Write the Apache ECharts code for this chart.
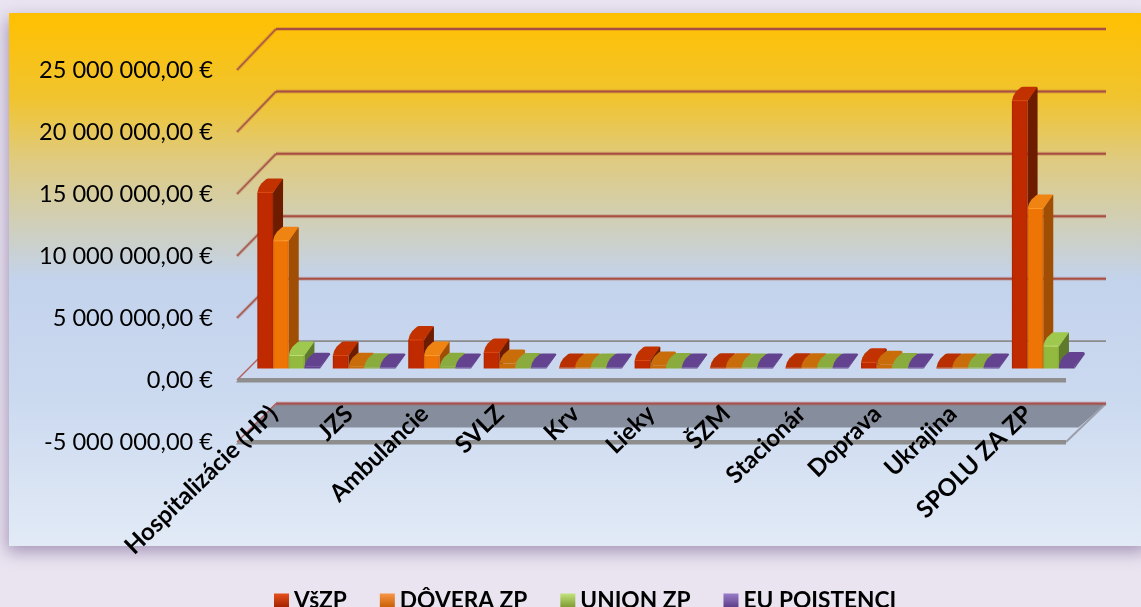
<!DOCTYPE html>
<html><head><meta charset="utf-8">
<style>html,body{margin:0;padding:0;background:#E9E4F0;overflow:hidden}#c{width:1141px;height:607px}</style>
<script src="https://cdn.jsdelivr.net/npm/echarts@6/dist/echarts.min.js"></script>
</head><body><div id="c"></div>
<script>
const categories = ['Hospitalizácie (HP)','JZS','Ambulancie','SVLZ','Krv','Lieky','ŠZM','Stacionár','Doprava','Ukrajina','SPOLU ZA ZP'];
const vszp   = [14200000,1050000,2300000,1300000,80000,650000,100000,100000,500000,80000,21600000];
const dovera = [10300000,150000,1050000,400000,80000,250000,100000,100000,300000,80000,12900000];
const union  = [1050000,100000,150000,120000,80000,120000,80000,80000,120000,80000,1800000];
const eu     = [150000,80000,80000,80000,80000,80000,80000,80000,80000,80000,200000];
const yTicks = [-5000000,0,5000000,10000000,15000000,20000000,25000000];
const legendNames = ['VšZP','DÔVERA ZP','UNION ZP','EU POISTENCI'];
const seriesValues = [vszp,dovera,union,eu];
const palette = [
 {front:'#C02A00',edge:'#A82400',side:'#6E1C00',top:'#C23200',hi:'#DC4610',flat:'#B83000',l1:'#E8501C',l2:'#A02200'},
 {front:'#EE7406',edge:'#D86404',side:'#A04E04',top:'#F08412',hi:'#FF9C2C',flat:'#C96C0A',l1:'#F79646',l2:'#C85E04'},
 {front:'#93BA3E',edge:'#84A836',side:'#5E7A2A',top:'#9FC84E',hi:'#BEDF74',flat:'#8AAB3E',l1:'#C4E27C',l2:'#7C9A30'},
 {front:'#69489A',edge:'#5C3E88',side:'#4C3470',top:'#65458F',hi:'#7E5CAE',flat:'#63438F',l1:'#9A7CC8',l2:'#5C3E88'}
];
const WALL_DX=40, WALL_DY=-41, WALL_PERSPECTIVE=2.5, BAR_DX=10, BAR_DY=-14, BAR_SHIFT_X=15, BAR_SHIFT_Y=-11.5, BAR_FRACTION=0.208, FLAT_PX=6;

function euro(v){
  const neg=v<0; const s=String(Math.abs(v)).replace(/\B(?=(\d{3})+$)/g,' ');
  return (neg?'-':'')+s+',00 €';
}
function line(x1,y1,x2,y2,color,w){
  return {type:'line',shape:{x1,y1,x2,y2},style:{stroke:color,lineWidth:w,lineCap:'butt'},silent:true};
}
function softLine(x1,y1,x2,y2,color,w){
  return [line(x1,y1,x2,y2,'rgba(168,78,66,0.28)',w+2),line(x1,y1,x2,y2,color,w)];
}
function poly(points,fill){return {type:'polygon',shape:{points},style:{fill},silent:true};}

function renderWall(params,api){
  const cs=params.coordSys, L=cs.x, R=cs.x+cs.width, v=api.value(1), y=api.coord([0,v])[1];
  const top=yTicks[yTicks.length-1], span=top-yTicks[0];
  const bx=L+WALL_DX, bR=R+WALL_DX, by=y+WALL_DY+WALL_PERSPECTIVE*(top-v)/span, ch=[];
  if(v===0){
    ch.push(line(L+1,y,bx,by,'#B4605C',1.5));
    ch.push(line(bx,by,bR,by,'#8C8C8C',1.6));
    ch.push(poly([[L,y+2.5],[L+3,y-2],[R,y-2],[R,y+2.5]],'#8E8E8E'));
  } else if(v<0){
    const h=24;
    ch.push(poly([[bx,by],[bR,by],[bR-h*1.15,by+h],[bx-h,by+h]],'#868D9C'));
    ch.push(line(bR,by,R,y,'#9A9FAB',2));
    ch.push(poly([[L,y+2.5],[L+3,y-2],[R,y-2],[R,y+2.5]],'#8E8E8E'));
    ch.push(line(L+1,y,bx,by,'#B4605C',1.5));
    ch.push(...softLine(bx,by,bR,by,'#A8504C',2));
  } else {
    ch.push(...softLine(L+1,y,bx,by,'#A8584A',1.6));
    ch.push(...softLine(bx,by,bR,by,'#A84E42',2));
  }
  return {type:'group',children:ch};
}

function makeRender(s){
  return function(params,api){
    const c=palette[s], i=api.value(0), v=api.value(1);
    const p0=api.coord([i,0]), p1=api.coord([i,v]);
    const band=api.size([1,0])[0], w=band*BAR_FRACTION;
    const x0=p0[0]+BAR_SHIFT_X+(s-2)*w, x1=x0+w;
    const yb=p0[1]+BAR_SHIFT_Y, yt=p1[1]+BAR_SHIFT_Y;
    const dx=BAR_DX, dy=BAR_DY, flat=(yb-yt)<FLAT_PX;
    const frontFill=flat?c.flat:{type:'linear',x:0,y:0,x2:1,y2:0,colorStops:[{offset:0,color:c.edge},{offset:.12,color:c.front},{offset:.88,color:c.front},{offset:1,color:c.edge}]};
    const front=poly([[x0,yb],[x1,yb],[x1,yt],[x0,yt]],frontFill);
    const side=poly([[x1,yb],[x1+dx,yb+dy],[x1+dx,yt+dy+1],[x1+dx-1,yt+dy],[x1,yt]],flat?c.flat:c.side);
    const top=poly([[x0,yt],[x0+1.5,yt-5],[x0+4,yt-9],[x0+dx-1,yt+dy+.5],[x0+dx+1,yt+dy],[x1+dx-1.5,yt+dy],[x1+dx-.5,yt+dy+1],[x1,yt]],flat?c.flat:c.top);
    const children=[side,front,top];
    if(!flat) children.push(line(x0+1,yt,x1-1,yt,c.hi,1));
    return {type:'group',children};
  };
}

const barSeries=seriesValues.map((vals,s)=>({
  name:legendNames[s],type:'custom',coordinateSystem:'cartesian2d',z:3,clip:false,silent:true,
  encode:{x:0,y:1},
  itemStyle:{color:{type:'linear',x:0,y:0,x2:0,y2:1,colorStops:[{offset:0,color:palette[s].l1},{offset:1,color:palette[s].l2}]}},
  data:vals.map((v,i)=>[i,v]),
  renderItem:makeRender(s)
}));

const chart=echarts.init(document.getElementById('c'),null,{renderer:'canvas'});
chart.setOption({
  animation:false,
  backgroundColor:'#E9E4F0',
  textStyle:{fontFamily:'Lato'},
  graphic:[{
    type:'rect',z:-10,silent:true,
    shape:{x:9,y:13,width:1140,height:533},
    style:{
      fill:{type:'linear',x:0,y:0,x2:0,y2:1,colorStops:[
        {offset:0,color:'#FFC000'},{offset:.163,color:'#F0C430'},{offset:.276,color:'#DFCB80'},{offset:.40,color:'#CFCFBB'},{offset:.50,color:'#C3D3EC'},{offset:.73,color:'#CCDAF0'},{offset:1,color:'#E2EAF6'}]},
      shadowBlur:16,shadowOffsetY:6,shadowOffsetX:-2,shadowColor:'rgba(110,85,140,0.55)'
    }
  }],
  grid:{left:236,right:75,top:70,bottom:165,containLabel:false},
  legend:{
    left:269,top:584,itemWidth:15,itemHeight:14,itemGap:33,icon:'rect',selectedMode:false,
    data:legendNames,
    textStyle:{fontFamily:'Lato',fontWeight:'bold',fontSize:22.7,color:'#000'}
  },
  xAxis:{
    type:'category',data:categories,z:10,
    axisLine:{show:false,onZero:true},axisTick:{show:false},splitLine:{show:false},
    axisLabel:{interval:0,rotate:44,margin:-32,lineHeight:44,fontFamily:'Lato',fontWeight:'bold',fontSize:24,color:'#000',hideOverlap:false}
  },
  yAxis:{
    type:'value',min:-5000000,max:25000000,interval:5000000,
    axisLine:{show:false},axisTick:{show:false},splitLine:{show:false},
    axisLabel:{margin:23,padding:[4,0,0,0],fontFamily:'Lato',fontSize:23.6,color:'#000',formatter:euro}
  },
  series:[{
    type:'custom',coordinateSystem:'cartesian2d',z:2,clip:false,silent:true,encode:{x:0,y:1},
    data:yTicks.map(v=>[0,v]),renderItem:renderWall
  }].concat(barSeries)
});
</script></body></html>
